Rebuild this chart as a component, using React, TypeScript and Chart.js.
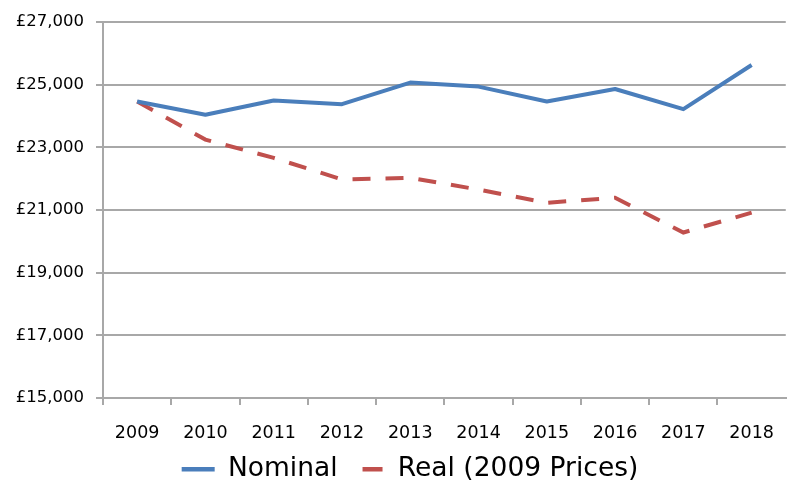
import React, { useEffect, useRef } from "react";
import { Chart, registerables } from "chart.js";

Chart.register(...registerables);

const years = ["2009", "2010", "2011", "2012", "2013", "2014", "2015", "2016", "2017", "2018"];
const nominal = [24460, 24040, 24490, 24375, 25065, 24935, 24460, 24860, 24215, 25625];
const real = [24460, 23245, 22660, 21975, 22025, 21650, 21230, 21390, 20280, 20915];
const seriesNames = ["Nominal", "Real (2009 Prices)"];
const yMin = 15000;
const yMax = 27000;
const yStep = 2000;

const BLUE = "#4a7ebb";
const RED = "#c0504d";
const GRID = "#a8a8a8";

const shiftLegend = {
  id: "shiftLegend",
  afterLayout(chart: any) {
    const l = chart.legend;
    if (l) {
      l.left = 30;
    }
  },
};

export default function App() {
  const ref = useRef<HTMLCanvasElement | null>(null);
  useEffect(() => {
    document.body.style.margin = "0";
    const canvas = ref.current;
    if (!canvas) return;
    const chart = new Chart(canvas, {
      type: "line",
      data: {
        labels: years,
        datasets: [
          {
            label: seriesNames[0],
            data: nominal,
            borderColor: BLUE,
            backgroundColor: BLUE,
            borderWidth: 4,
            pointRadius: 0,
            tension: 0,
            borderJoinStyle: "round",
          },
          {
            label: seriesNames[1],
            data: real,
            borderColor: RED,
            backgroundColor: RED,
            borderWidth: 4,
            borderDash: [18, 15],
            pointRadius: 0,
            tension: 0,
          },
        ],
      },
      options: {
        responsive: false,
        animation: false,
        layout: { padding: { top: 20, right: 2, left: 0, bottom: -4.5 } },
        plugins: {
          tooltip: { enabled: false },
          legend: {
            position: "bottom",
            labels: {
              usePointStyle: true,
              pointStyle: "line",
              pointStyleWidth: 33,
              padding: 14,
              color: "#000",
              font: { family: "'DejaVu Sans', sans-serif", size: 26.5 },
              generateLabels: (chart: any) => {
                const ds = chart.data.datasets;
                return ds.map((d: any, i: number) => ({
                  text: d.label,
                  fillStyle: d.borderColor,
                  strokeStyle: d.borderColor,
                  lineWidth: 4.5,
                  lineDash: i === 1 ? [20, 14] : [],
                  lineDashOffset: i === 1 ? 23 : 0,
                  lineCap: "butt",
                  pointStyle: "line",
                  fontColor: "#000",
                  hidden: false,
                  datasetIndex: i,
                }));
              },
            },
          },
        },
        scales: {
          x: {
            offset: true,
            grid: {
              offset: true,
              drawOnChartArea: false,
              drawTicks: true,
              tickLength: 7,
              color: (c: any) => (c.type === "tick" ? GRID : "rgba(0,0,0,0)"),
              lineWidth: 2,
            },
            border: { display: true, color: GRID, width: 2 },
            ticks: {
              color: "#000",
              padding: 18,
              maxRotation: 0,
              font: { family: "'DejaVu Sans', sans-serif", size: 17.5 },
            },
            afterFit: (s: any) => {
              s.height = 44;
            },
          },
          y: {
            min: yMin,
            max: yMax,
            grid: {
              color: GRID,
              lineWidth: 2,
              drawTicks: true,
              tickLength: 7,
            },
            border: { display: true, color: GRID, width: 2 },
            ticks: {
              stepSize: yStep,
              color: "#000",
              padding: 12,
              font: { family: "'DejaVu Sans', sans-serif", size: 16.5 },
              callback: (v: any) => "£" + Number(v).toLocaleString("en-GB"),
            },
            afterFit: (s: any) => {
              s.width = 103;
            },
          },
        },
      },
      plugins: [shiftLegend],
    });
    return () => chart.destroy();
  }, []);
  return (
    <div style={{ width: 792, height: 488 }}>
      <canvas ref={ref} width={792} height={488} />
    </div>
  );
}
